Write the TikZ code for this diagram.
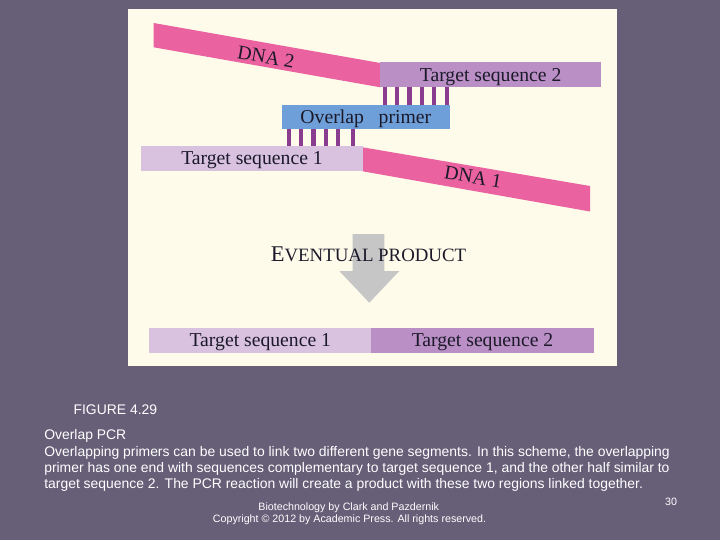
\documentclass[tikz,border=0pt]{standalone}
\usepackage{fontspec}
\setsansfont{Liberation Sans}
\newfontfamily\figserif{Liberation Serif}
\usepackage{tikz}

\definecolor{slide}{HTML}{675E78}
\definecolor{cream}{HTML}{FFFBEB}
\definecolor{dnapink}{HTML}{EA62A0}
\definecolor{seqone}{HTML}{D9C2E0}
\definecolor{seqtwo}{HTML}{B98FC5}
\definecolor{primerblue}{HTML}{6E9FD8}
\definecolor{bond}{HTML}{8A3C8E}
\definecolor{arrowgray}{HTML}{C6C6C6}
\definecolor{inktext}{HTML}{1C1A2A}

\begin{document}
\begin{tikzpicture}[x=0.025cm, y=-0.025cm,
	lbl/.style = {font=\figserif\fontsize{14}{16}\selectfont, text=inktext, inner sep=0pt},
	captext/.style = {font=\sffamily\fontsize{9.9}{12}\selectfont, text=white, anchor=base west, inner sep=0pt},
	foot/.style = {font=\sffamily\fontsize{7.6}{9}\selectfont, text=white, anchor=base, inner sep=0pt}]
	\fill[slide] (0,0) rectangle (720,540);
	\fill[cream] (128,9) rectangle (617,366);
	% DNA strands
	\fill[dnapink] (153.7,23) -- (380.3,63) -- (380.3,87.3) -- (153.7,47.3) -- cycle;
	\fill[dnapink] (362.7,147.3) -- (590,186) -- (590,211.5) -- (362.7,171.3) -- cycle;
	\node[lbl, rotate=-10] (dna2) at (266,57) {DNA 2};
	\node[lbl, rotate=-9.7] (dna1) at (473,177) {DNA 1};
	% target sequences
	\fill[seqtwo] (380.3,62) rectangle (601,87.3);
	\node[lbl, anchor=base] (ts2) at (490.6,81.3) {Target sequence 2};
	\fill[seqone] (141,146.3) rectangle (362.7,171.3);
	\node[lbl, anchor=base] (ts1) at (252,164.7) {Target sequence 1};
	% primer and bonds
	\foreach \x in {383,395.2,407.4,419.6,431.8,445} {
		\fill[bond] (\x,87.3) rectangle ++(4.2,17.4);
	}
	\foreach \x in {287,299.2,311.4,323.6,335.8,350.5} {
		\fill[bond] (\x,128.7) rectangle ++(4.2,17.6);
	}
	\fill[primerblue] (282,104.7) rectangle (449.7,128.7);
	\node[lbl, anchor=base] (primer) at (365.8,123) {Overlap\ \ \ primer};
	% eventual product
	\fill[arrowgray] (352.7,234) -- (384.3,234) -- (384.3,271) -- (399.3,271)
		-- (369.3,302.7) -- (339.3,271) -- (352.7,271) -- cycle;
	\node[lbl, anchor=base] (product) at (368.5,261.7)
		{\fontsize{16}{18}\selectfont E\fontsize{13.4}{16}\selectfont VENTUAL PRODUCT};
	\fill[seqone] (149.3,327.7) rectangle (371.3,352.7);
	\fill[seqtwo] (371.3,327.7) rectangle (593.7,352.7);
	\node[lbl, anchor=base] (out1) at (260.3,346) {Target sequence 1};
	\node[lbl, anchor=base] (out2) at (482.5,346) {Target sequence 2};
	% caption
	\node[captext] (fig) at (73.3,414) {FIGURE 4.29};
	\node[captext] (title) at (44,439.7) {Overlap PCR};
	\node[captext] (l1) at (44,456) {Overlapping primers can be used to link two different gene segments. In this scheme, the overlapping};
	\node[captext] (l2) at (44,472.3) {primer has one end with sequences complementary to target sequence 1, and the other half similar to};
	\node[captext] (l3) at (44,488.6) {target sequence 2. The PCR reaction will create a product with these two regions linked together.};
	\node[foot] (book) at (348.7,510.7) {Biotechnology by Clark and Pazdernik};
	\node[foot] (copy) at (349.5,522.3) {Copyright © 2012 by Academic Press. All rights reserved.};
	\node[foot] (page) at (671,505) {30};
\end{tikzpicture}
\end{document}
